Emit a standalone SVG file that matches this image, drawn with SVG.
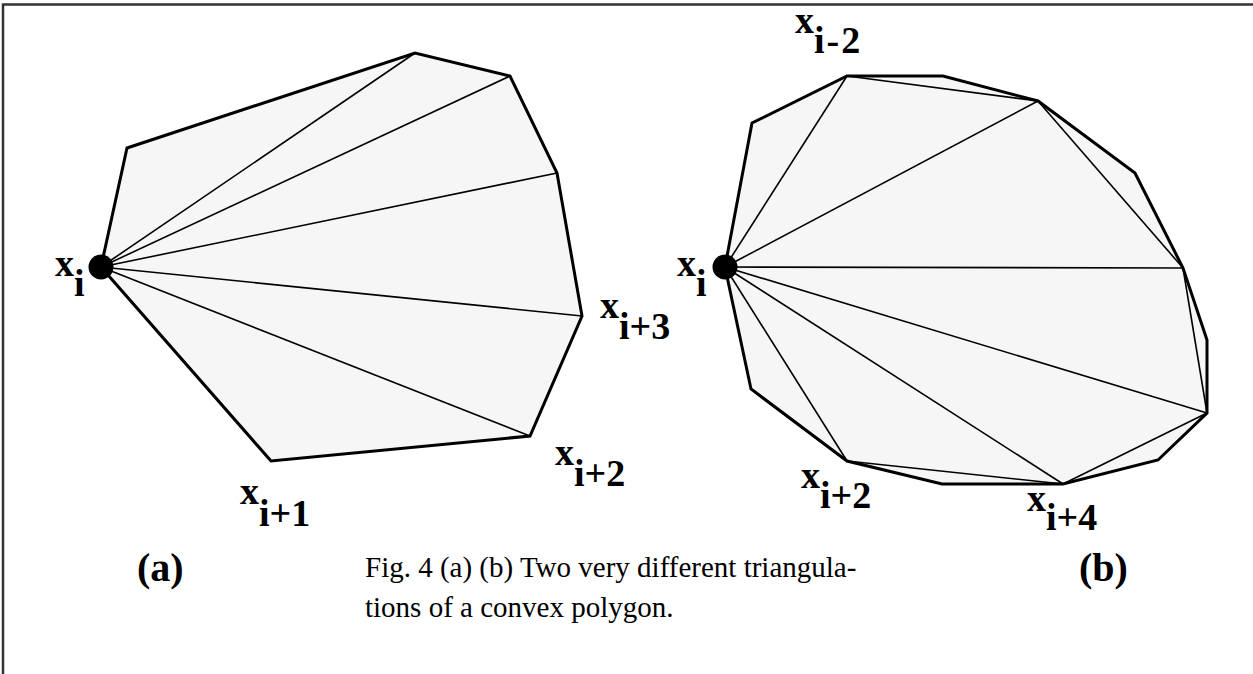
<svg xmlns="http://www.w3.org/2000/svg" width="1253" height="674" viewBox="0 0 1253 674">
<style>
.poly{fill:#f6f6f6;stroke:#000;stroke-width:3;stroke-linejoin:miter}
.diag{stroke:#000;stroke-width:1.6;fill:none}
.lbl{font-family:"Liberation Serif","Times New Roman",serif;font-weight:bold;font-size:38px;fill:#000}
.cap{font-family:"Liberation Serif","Times New Roman",serif;font-size:29px;fill:#000}
.frame{stroke:#333;stroke-width:2.5;fill:none}
</style>
<rect width="1253" height="674" fill="#fff"/>
<path class="frame" d="M3,674 V4.5 H1253"/>
<g id="polygon-a">
<polygon class="poly" points="101,267 127,148 415,53 510,76 557,173 582,316 530,436 271,461"/>
</g>
<g id="polygon-b">
<polygon class="poly" points="725,267 752,123 847,76 943,76 1038,101 1135,173 1183,268 1207,340 1207,413 1158,460 1063,484 942,484 847,461 751,389"/>
</g>
<g id="connectors">
<line class="diag" x1="101" y1="267" x2="415" y2="53"/>
<line class="diag" x1="101" y1="267" x2="510" y2="76"/>
<line class="diag" x1="101" y1="267" x2="557" y2="173"/>
<line class="diag" x1="101" y1="267" x2="582" y2="316"/>
<line class="diag" x1="101" y1="267" x2="530" y2="436"/>
<line class="diag" x1="725" y1="267" x2="847" y2="76"/>
<line class="diag" x1="725" y1="267" x2="1038" y2="101"/>
<line class="diag" x1="725" y1="267" x2="1183" y2="268"/>
<line class="diag" x1="725" y1="267" x2="1207" y2="413"/>
<line class="diag" x1="725" y1="267" x2="1063" y2="484"/>
<line class="diag" x1="725" y1="267" x2="847" y2="461"/>
<line class="diag" x1="847" y1="76" x2="1038" y2="101"/>
<line class="diag" x1="1038" y1="101" x2="1183" y2="268"/>
<line class="diag" x1="1183" y1="268" x2="1207" y2="413"/>
<line class="diag" x1="1207" y1="413" x2="1063" y2="484"/>
<line class="diag" x1="1063" y1="484" x2="847" y2="461"/>
</g>
<g id="vertex-a-xi"><circle cx="101" cy="267" r="12.5" fill="#000"/></g>
<g id="vertex-b-xi"><circle cx="725" cy="267" r="12.5" fill="#000"/></g>
<g id="labels">
<text class="lbl" x="55" y="276">x<tspan dy="20">i</tspan></text>
<text class="lbl" x="600" y="318">x<tspan dy="21">i+3</tspan></text>
<text class="lbl" x="555" y="465">x<tspan dy="21">i+2</tspan></text>
<text class="lbl" x="240" y="504">x<tspan dy="22">i+1</tspan></text>
<text class="lbl" x="677" y="276">x<tspan dy="20">i</tspan></text>
<text class="lbl" x="795" y="33">x<tspan dy="20" letter-spacing="2">i-2</tspan></text>
<text class="lbl" x="801" y="488">x<tspan dy="20">i+2</tspan></text>
<text class="lbl" x="1027" y="511">x<tspan dy="19">i+4</tspan></text>
<text class="lbl" x="137" y="581" style="font-size:40px">(a)</text>
<text class="lbl" x="1079" y="581" style="font-size:40px">(b)</text>
<text class="cap" x="365" y="577">Fig. 4 (a) (b) Two very different triangula-</text>
<text class="cap" x="365" y="617">tions of a convex polygon.</text>
</g>
</svg>
